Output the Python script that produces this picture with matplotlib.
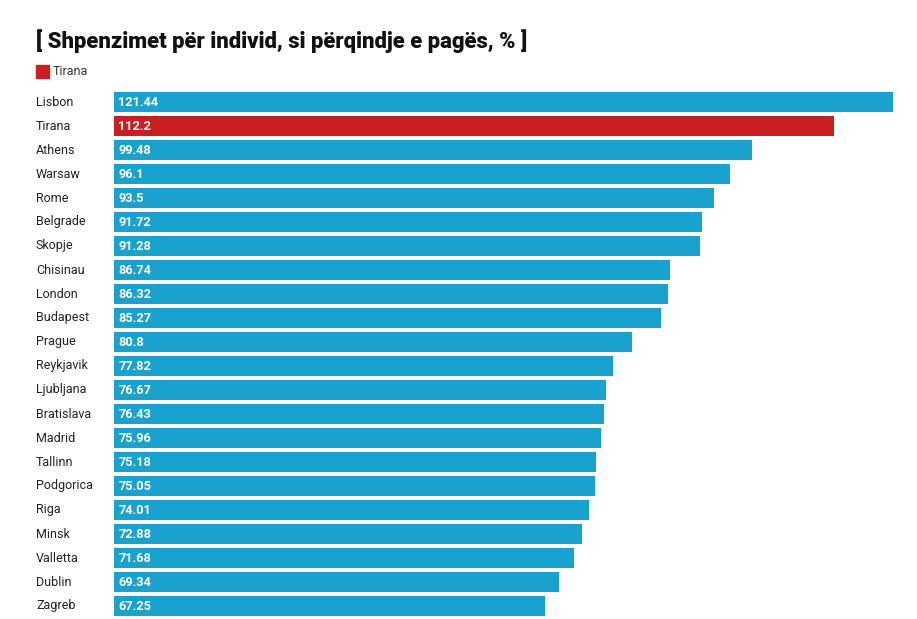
import matplotlib.pyplot as plt
from matplotlib.patches import Rectangle

cities = ['Lisbon', 'Tirana', 'Athens', 'Warsaw', 'Rome', 'Belgrade', 'Skopje',
          'Chisinau', 'London', 'Budapest', 'Prague', 'Reykjavik', 'Ljubljana',
          'Bratislava', 'Madrid', 'Tallinn', 'Podgorica', 'Riga', 'Minsk',
          'Valletta', 'Dublin', 'Zagreb']
values = [121.44, 112.2, 99.48, 96.1, 93.5, 91.72, 91.28, 86.74, 86.32, 85.27,
          80.8, 77.82, 76.67, 76.43, 75.96, 75.18, 75.05, 74.01, 72.88, 71.68,
          69.34, 67.25]
labels = ['121.44', '112.2', '99.48', '96.1', '93.5', '91.72', '91.28', '86.74',
          '86.32', '85.27', '80.8', '77.82', '76.67', '76.43', '75.96', '75.18',
          '75.05', '74.01', '72.88', '71.68', '69.34', '67.25']
highlight = 'Tirana'

blue = '#19a2ce'
red = '#c91f20'

plt.rcParams['font.family'] = ['Roboto', 'DejaVu Sans']

W, H = 917, 619
fig = plt.figure(figsize=(W / 100, H / 100), dpi=100)

# axes placed in pixel terms
left, right = 114, 893
top, bottom = 90, 618
ax = fig.add_axes([left / W, 1 - bottom / H, (right - left) / W, (bottom - top) / H])

ypos = list(range(len(cities)))
colors = [red if c == highlight else blue for c in cities]
ax.barh(ypos, values, height=0.83, color=colors)
ax.set_xlim(0, max(values))
ax.set_ylim(len(cities) - 0.5, -0.5)
ax.axis('off')

for i, (c, v, lab) in enumerate(zip(cities, values, labels)):
    ax.text(-78 / (right - left) * max(values), i, c, ha='left', va='center',
            fontsize=9, color='#222222')
    ax.text(0.7, i, lab, ha='left', va='center', fontsize=9.2,
            fontweight='bold', color='white')

fig.text(36 / W, 1 - 41 / H, '[ Shpenzimet për individ, si përqindje e pagës, % ]',
         ha='left', va='center', fontsize=15.8, fontweight='heavy', color='#111111')

fig.patches.append(Rectangle((36 / W, 1 - 78 / H), 13 / W, 13 / H,
                             transform=fig.transFigure, color=red))
fig.text(53 / W, 1 - 71.5 / H, 'Tirana', ha='left', va='center', fontsize=9,
         color='#333333')

plt.savefig('out.png', dpi=100)
